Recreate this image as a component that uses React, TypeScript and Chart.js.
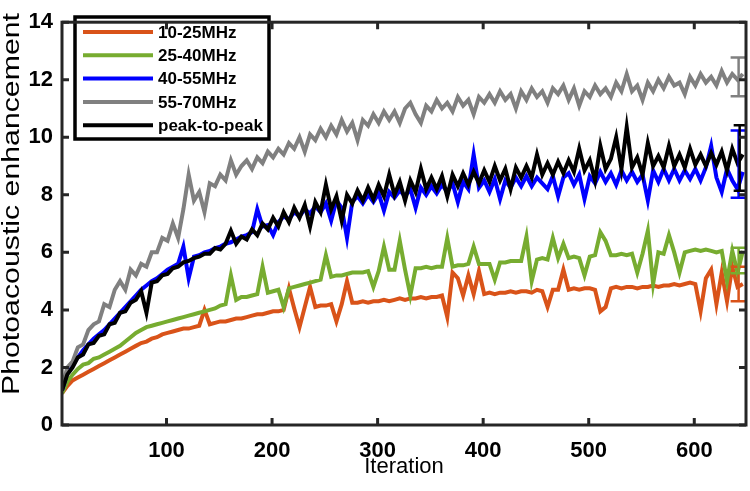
import React, { useEffect, useRef } from "react";
import { Chart, registerables } from "chart.js";

Chart.register(...registerables);

const iterations = [
  1, 6, 11, 16, 21, 26, 31, 36, 41, 46, 51, 56, 61, 66, 71, 76, 81, 86, 91, 96,
  101, 106, 111, 116, 121, 126, 131, 136, 141, 146, 151, 156, 161, 166, 171, 176, 181, 186, 191, 196,
  201, 206, 211, 216, 221, 226, 231, 236, 241, 246, 251, 256, 261, 266, 271, 276, 281, 286, 291, 296,
  301, 306, 311, 316, 321, 326, 331, 336, 341, 346, 351, 356, 361, 366, 371, 376, 381, 386, 391, 396,
  401, 406, 411, 416, 421, 426, 431, 436, 441, 446, 451, 456, 461, 466, 471, 476, 481, 486, 491, 496,
  501, 506, 511, 516, 521, 526, 531, 536, 541, 546, 551, 556, 561, 566, 571, 576, 581, 586, 591, 596,
  601, 606, 611, 616, 621, 626, 631, 636, 641, 646,
];

const band10to25 = [
  1.1, 1.35, 1.55, 1.65, 1.75, 1.85, 1.95, 2.05, 2.15, 2.25,
  2.35, 2.45, 2.55, 2.65, 2.75, 2.85, 2.9, 3.0, 3.05, 3.15,
  3.2, 3.25, 3.3, 3.35, 3.35, 3.4, 3.45, 4.0, 3.5, 3.55,
  3.6, 3.6, 3.65, 3.7, 3.7, 3.75, 3.8, 3.85, 3.85, 3.9,
  3.95, 3.95, 4.0, 4.75, 4.05, 3.4, 4.1, 4.8, 4.1, 4.15,
  4.15, 4.2, 3.6, 4.2, 5.0, 4.25, 4.25, 4.3, 4.25, 4.3,
  4.3, 4.35, 4.3, 4.35, 4.4, 4.35, 4.4, 4.4, 4.45, 4.4,
  4.45, 4.45, 4.5, 3.75, 5.3, 5.1, 4.5, 5.2, 4.55, 5.35,
  4.55, 4.6, 4.55, 4.6, 4.6, 4.65, 4.6, 4.65, 4.65, 4.6,
  4.7, 4.65, 4.1, 4.7, 4.7, 5.4, 4.7, 4.75, 4.7, 4.75,
  4.75, 4.7, 3.95, 4.1, 4.75, 4.8, 4.75, 4.8, 4.8, 4.75,
  4.8, 4.8, 4.85, 4.8, 4.85, 4.85, 4.9, 4.85, 4.9, 4.95,
  4.9, 3.95, 5.1, 5.4, 4.2, 5.3, 4.3, 5.5, 4.8, 4.9,
];

const band25to40 = [
  1.1, 1.5, 1.75, 1.95, 2.1, 2.15, 2.3, 2.35, 2.45, 2.55,
  2.65, 2.75, 2.9, 3.05, 3.2, 3.3, 3.4, 3.45, 3.5, 3.55,
  3.6, 3.65, 3.7, 3.75, 3.8, 3.85, 3.9, 3.95, 4.0, 4.05,
  4.15, 4.2, 5.2, 4.35, 4.45, 4.45, 4.5, 4.55, 5.5, 4.6,
  4.65, 4.7, 4.1, 4.75, 4.8, 4.85, 4.9, 4.95, 5.0, 5.05,
  5.9, 5.15, 5.2, 5.2, 5.25, 5.3, 5.3, 5.3, 5.35, 4.8,
  5.35, 6.2, 5.4, 5.4, 6.4, 5.4, 4.5, 5.45, 5.45, 5.5,
  5.45, 5.5, 5.5, 6.5, 5.5, 5.55, 5.55, 5.6, 6.2, 5.6,
  5.6, 5.6, 5.05, 5.65, 5.65, 5.7, 5.7, 5.7, 6.55, 5.0,
  5.75, 5.8, 5.75, 6.5, 5.8, 6.3, 5.8, 5.85, 5.8, 5.2,
  5.85, 5.9, 6.7, 6.4, 5.9, 5.9, 5.95, 5.9, 5.95, 5.3,
  5.95, 6.75, 4.9, 6.0, 5.95, 6.6, 6.0, 5.3, 6.0, 6.05,
  6.1, 6.05, 6.1, 6.05, 6.0, 6.05, 5.0, 6.05, 5.3, 6.05,
];

const band40to55 = [
  1.2, 1.8, 2.1, 2.35, 2.6, 2.8, 3.0, 3.15, 3.3, 3.5,
  3.7, 3.9, 4.1, 4.3, 4.5, 4.7, 4.85, 5.0, 5.1, 5.25,
  5.4, 5.5, 5.6, 6.2, 5.1, 5.85, 5.9, 6.0, 6.05, 6.15,
  6.2, 6.3, 6.35, 6.45, 6.55, 6.6, 6.7, 7.5, 6.9, 6.95,
  6.6, 7.05, 7.25, 7.15, 7.4, 7.25, 7.5, 7.35, 7.6, 7.4,
  7.7, 7.1, 7.8, 7.55, 6.5, 7.75, 7.95, 7.7, 8.0, 7.75,
  8.05, 7.45, 8.1, 7.9, 8.15, 7.95, 8.2, 7.55, 8.25, 8.0,
  8.3, 8.05, 8.35, 8.1, 8.4, 7.75, 8.45, 8.2, 9.4, 8.25,
  8.5, 8.1, 8.55, 7.85, 8.5, 8.25, 8.6, 8.3, 8.65, 8.3,
  8.6, 8.4, 8.2, 8.65, 7.95, 8.6, 8.75, 8.35, 8.7, 7.85,
  8.65, 8.4, 8.8, 8.45, 8.75, 8.35, 8.85, 8.5, 8.8, 8.45,
  8.7, 7.8, 8.85, 8.45, 8.9, 8.5, 8.9, 8.5, 8.85, 8.55,
  8.9, 8.5, 8.95, 9.7, 8.6, 8.1, 8.9, 8.5, 8.2, 8.8,
];

const band55to70 = [
  1.3, 2.0, 2.2, 2.7, 2.8, 3.3, 3.5, 3.6, 4.2, 4.1,
  4.7, 5.0, 4.7, 5.4, 5.2, 5.6, 5.5, 6.0, 6.0, 6.5,
  6.4, 7.0, 6.5, 7.5, 8.7, 7.8, 8.1, 7.4, 8.4, 8.3,
  8.7, 8.5, 9.2, 8.7, 9.0, 9.2, 8.9, 9.3, 9.1, 9.5,
  9.3, 9.6, 9.4, 9.8, 9.6, 10.0, 9.5, 10.1, 9.9, 10.3,
  10.0, 10.4, 10.1, 10.6, 10.2, 10.5, 9.9, 10.6, 10.4, 10.8,
  10.5, 10.9, 10.6, 10.9, 10.5, 11.0, 11.2, 10.8, 10.5, 11.1,
  10.9, 11.3, 11.0, 11.2, 10.9, 11.4, 11.1, 11.3, 10.8, 11.4,
  11.2, 11.5, 11.2, 11.6, 11.3, 11.5, 11.0, 11.6, 11.3, 11.7,
  11.4, 11.6, 11.2, 11.7, 11.5, 11.8, 11.3, 11.7, 11.1, 11.6,
  11.4, 11.8, 11.5, 11.7, 11.4, 11.9, 11.6, 12.2, 11.6, 11.8,
  11.3, 11.9, 11.6, 12.0, 11.7, 12.1, 11.8, 11.9, 11.5, 12.1,
  11.8, 12.2, 11.9, 12.1, 11.8, 12.3, 11.9, 12.2, 12.0, 12.2,
];

const peakToPeak = [
  1.2, 1.75, 2.0, 2.35, 2.45, 2.8, 2.85, 3.1, 3.15, 3.5,
  3.55, 3.9, 3.95, 4.25, 4.35, 4.65, 3.9, 4.95, 5.0, 5.2,
  5.25, 5.45, 5.5, 5.65, 5.7, 5.8, 5.85, 5.95, 5.95, 6.15,
  6.1, 6.3, 6.75, 6.3, 6.55, 6.45, 6.8, 6.6, 7.0, 6.8,
  7.2, 6.9, 7.4, 7.05, 7.55, 7.2, 7.65, 6.9, 7.75, 7.4,
  8.35, 7.5, 7.95, 7.1, 8.0, 7.7, 8.15, 7.8, 8.25, 7.85,
  8.35, 7.95, 8.7, 8.0, 8.45, 7.8, 8.5, 8.1, 8.9, 8.2,
  8.6, 8.2, 8.65, 7.95, 8.7, 8.3, 8.75, 8.35, 8.8, 8.4,
  8.85, 8.45, 9.0, 8.5, 8.9, 8.2, 8.95, 8.6, 9.0, 8.6,
  9.4, 8.7, 9.1, 8.7, 9.15, 8.75, 9.2, 8.8, 9.6, 8.85,
  9.2, 8.5, 9.7, 8.9, 9.25, 10.0, 8.9, 10.35, 8.95, 9.3,
  8.7, 9.8, 9.0, 9.35, 8.95, 9.7, 9.0, 9.4, 8.95, 9.6,
  9.05, 9.4, 9.0, 9.45, 9.05, 9.5, 8.85, 9.6, 9.1, 9.4,
];

const seriesLabels = ["10-25MHz", "25-40MHz", "40-55MHz", "55-70MHz", "peak-to-peak"];
const seriesColors = ["#D95319", "#77AC30", "#0000FF", "#808080", "#000000"];
const seriesValues = [band10to25, band25to40, band40to55, band55to70, peakToPeak];
const seriesOrder = [5, 4, 3, 2, 1];

// final error bars (at the last iterations)
const errIteration = [642, 642, 642, 642, 643];
const errLow = [4.3, 5.27, 7.9, 11.43, 8.14];
const errHigh = [5.5, 6.16, 10.24, 12.77, 10.42];

const xTickValues = [100, 200, 300, 400, 500, 600];
const yTickValues = [0, 2, 4, 6, 8, 10, 12, 14];

const FONT = "'Liberation Sans', Arial, Helvetica, sans-serif";
const AXIS_COLOR = "#262626";

const errorBarPlugin = {
  id: "errorBars",
  afterDatasetsDraw(chart: any) {
    const { ctx, chartArea: a, scales } = chart;
    ctx.save();
    ctx.beginPath();
    ctx.rect(a.left, a.top, a.right - a.left, a.bottom - a.top);
    ctx.clip();
    ctx.lineWidth = 2.5;
    ctx.lineCap = "butt";
    for (let k = 0; k < errIteration.length; k++) {
      const px = scales.x.getPixelForValue(errIteration[k]);
      const pLow = scales.y.getPixelForValue(errLow[k]);
      const pHigh = scales.y.getPixelForValue(errHigh[k]);
      const cap = k === 4 ? 6 : 8;
      ctx.strokeStyle = seriesColors[k];
      ctx.beginPath();
      ctx.moveTo(px, pLow);
      ctx.lineTo(px, pHigh);
      ctx.moveTo(px - cap, pLow);
      ctx.lineTo(px + cap, pLow);
      ctx.moveTo(px - cap, pHigh);
      ctx.lineTo(px + cap, pHigh);
      ctx.stroke();
    }
    ctx.restore();
  },
};

const legendPlugin = {
  id: "boxLegend",
  afterDatasetsDraw(chart: any) {
    const { ctx } = chart;
    const left = 75;
    const top = 17;
    const w = 194;
    const h = 122;
    ctx.save();
    ctx.fillStyle = "#ffffff";
    ctx.fillRect(left, top, w, h);
    ctx.lineWidth = 3.5;
    ctx.strokeStyle = "#000000";
    ctx.strokeRect(left, top, w, h);
    ctx.font = `bold 17px ${FONT}`;
    ctx.textBaseline = "middle";
    ctx.textAlign = "left";
    seriesLabels.forEach((label, k) => {
      const y = 32 + k * 23.3;
      ctx.strokeStyle = seriesColors[k];
      ctx.lineWidth = 4;
      ctx.beginPath();
      ctx.moveTo(83, y);
      ctx.lineTo(153, y);
      ctx.stroke();
      ctx.fillStyle = "#000000";
      ctx.fillText(label, 158, y + 1);
    });
    ctx.restore();
  },
};

const framePlugin = {
  id: "matlabFrame",
  afterDraw(chart: any) {
    const { ctx, chartArea: a, scales } = chart;
    ctx.save();
    ctx.strokeStyle = AXIS_COLOR;
    ctx.lineWidth = 3;
    ctx.beginPath();
    for (const v of xTickValues) {
      const px = scales.x.getPixelForValue(v);
      ctx.moveTo(px, a.bottom);
      ctx.lineTo(px, a.bottom - 7);
      ctx.moveTo(px, a.top);
      ctx.lineTo(px, a.top + 7);
    }
    for (const v of yTickValues) {
      const py = scales.y.getPixelForValue(v);
      ctx.moveTo(a.left, py);
      ctx.lineTo(a.left + 7, py);
      ctx.moveTo(a.right, py);
      ctx.lineTo(a.right - 7, py);
    }
    ctx.stroke();
    ctx.strokeRect(a.left, a.top, a.right - a.left, a.bottom - a.top);

    // y axis title, stretched along its length as in the reference
    const text = "Photoacoustic enhancement";
    ctx.font = `23px ${FONT}`;
    const tw = ctx.measureText(text).width;
    ctx.translate(19, 204);
    ctx.rotate(-Math.PI / 2);
    ctx.scale(382 / tw, 1);
    ctx.fillStyle = "#000000";
    ctx.textAlign = "center";
    ctx.textBaseline = "alphabetic";
    ctx.fillText(text, 0, 0);
    ctx.restore();
  },
};

export default function App() {
  const canvasRef = useRef<HTMLCanvasElement | null>(null);

  useEffect(() => {
    if (!canvasRef.current) return;
    const datasets = seriesValues.map((vals, k) => ({
      label: seriesLabels[k],
      data: vals.map((v, i) => ({ x: iterations[i], y: v })),
      borderColor: seriesColors[k],
      backgroundColor: seriesColors[k],
      borderWidth: 4,
      pointRadius: 0,
      tension: 0,
      fill: false,
      order: seriesOrder[k],
      borderJoinStyle: "miter" as const,
    }));

    const tickFont = { family: FONT, size: 22, weight: "bold" as const };

    const chart = new Chart(canvasRef.current, {
      type: "line",
      data: { datasets },
      options: {
        animation: false,
        responsive: false,
        maintainAspectRatio: false,
        layout: { padding: { top: 8, right: 4, left: 0, bottom: 0 } },
        plugins: {
          legend: { display: false },
          tooltip: { enabled: false },
        },
        scales: {
          x: {
            type: "linear",
            min: 1,
            max: 649,
            grid: { display: false, drawTicks: false },
            border: { display: false },
            ticks: {
              color: "#000000",
              font: tickFont,
              padding: 13,
              maxRotation: 0,
              autoSkip: false,
            },
            afterBuildTicks: (scale: any) => {
              scale.ticks = xTickValues.map((v) => ({ value: v }));
            },
            afterFit: (scale: any) => {
              scale.height = 66;
            },
            title: {
              display: true,
              text: "Iteration",
              color: "#000000",
              font: { family: FONT, size: 22 },
              padding: { top: 0, bottom: 11 },
            },
          },
          y: {
            type: "linear",
            min: 0,
            max: 14,
            grid: { display: false, drawTicks: false },
            border: { display: false },
            ticks: {
              color: "#000000",
              font: tickFont,
              padding: 9,
              autoSkip: false,
            },
            afterBuildTicks: (scale: any) => {
              scale.ticks = yTickValues.map((v) => ({ value: v }));
            },
            afterFit: (scale: any) => {
              scale.width = 62;
            },
          },
        },
      },
      plugins: [errorBarPlugin, legendPlugin, framePlugin],
    });

    return () => {
      chart.destroy();
    };
  }, []);

  return (
    <div style={{ position: "fixed", left: 0, top: 0, width: 750, height: 491, background: "#ffffff" }}>
      <canvas ref={canvasRef} width={750} height={491} style={{ display: "block", width: 750, height: 491 }} />
    </div>
  );
}
